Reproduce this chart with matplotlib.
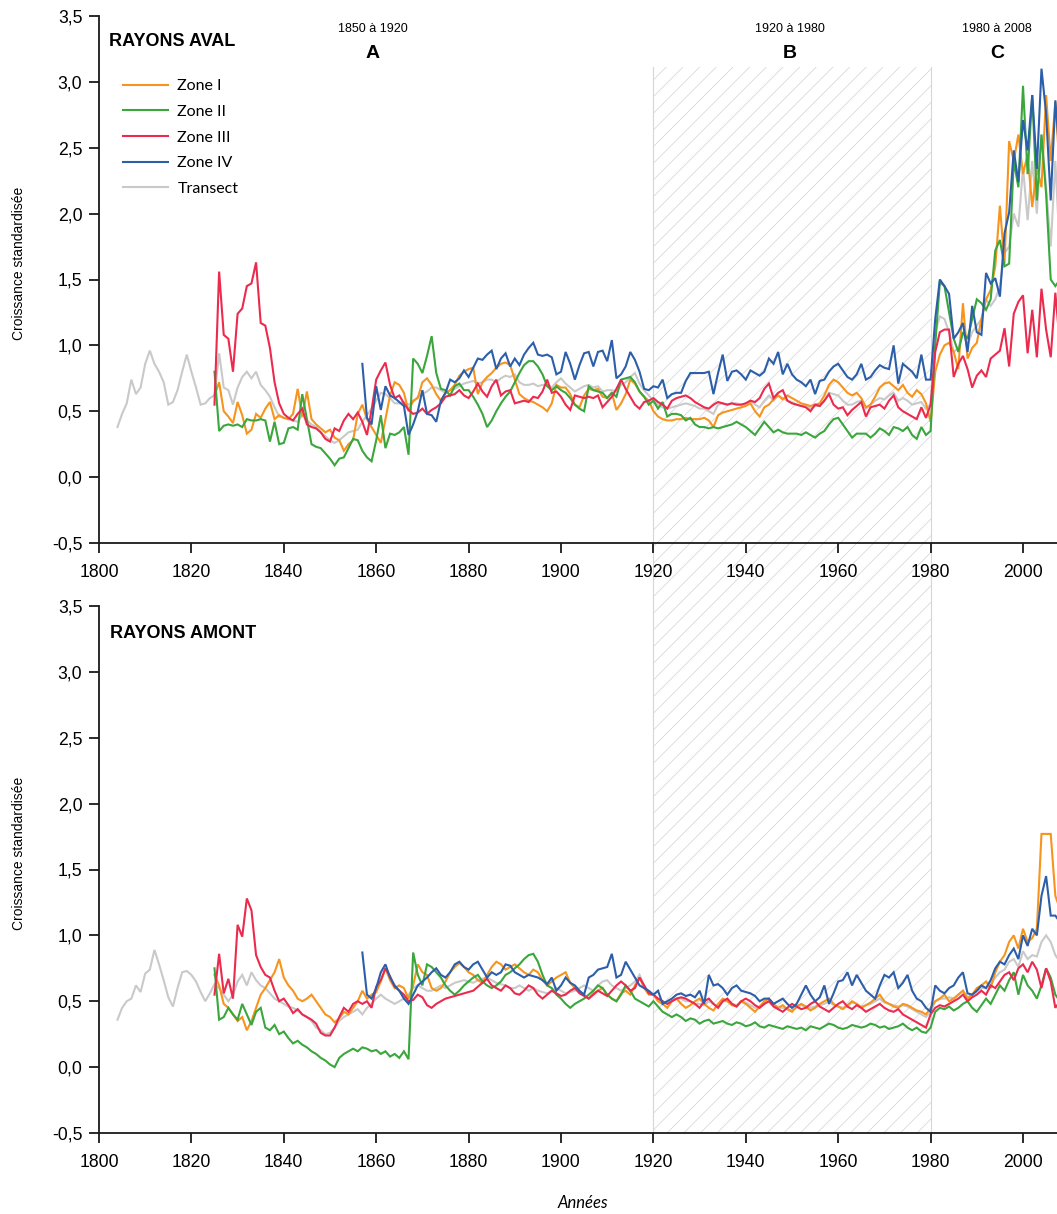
import numpy as np
import matplotlib
matplotlib.use("Agg")
import matplotlib.pyplot as plt
from matplotlib.patches import Rectangle
from matplotlib.lines import Line2D
from matplotlib.ticker import FuncFormatter
from matplotlib.transforms import blended_transform_factory

# ---------------------------------------------------------------- data
LAST_YEAR = 2008

# RAYONS AVAL
aval_transect_start = 1804
aval_transect = [
    0.38, 0.48, 0.56, 0.74, 0.63, 0.68, 0.86, 0.96, 0.86, 0.80, 0.72, 0.55, 0.57, 0.66, 0.80, 0.93, 0.80, 0.68, 0.55, 0.56, 0.60,
    0.62, 0.94, 0.68, 0.66, 0.55, 0.68, 0.76, 0.80, 0.75, 0.80, 0.70, 0.66, 0.61, 0.53, 0.46, 0.45, 0.44, 0.43, 0.42, 0.47,
    0.43, 0.40, 0.38, 0.34, 0.31, 0.28, 0.26, 0.28, 0.31, 0.34, 0.35, 0.36, 0.42, 0.47, 0.52, 0.58, 0.64, 0.63, 0.60, 0.56,
    0.56, 0.57, 0.55, 0.57, 0.61, 0.63, 0.65, 0.68, 0.68, 0.66,
    0.64, 0.66, 0.67, 0.69, 0.71, 0.72, 0.73, 0.71, 0.72, 0.74, 0.74, 0.72, 0.75, 0.77, 0.76, 0.78, 0.72, 0.70, 0.70, 0.71,
    0.69, 0.70, 0.70, 0.68, 0.72, 0.75, 0.71, 0.68, 0.65, 0.67, 0.69, 0.70, 0.68, 0.69, 0.65, 0.66, 0.66, 0.65, 0.70, 0.72,
    0.76, 0.79, 0.71, 0.66, 0.62, 0.58, 0.55, 0.53, 0.52, 0.53, 0.54,
    0.55, 0.56, 0.55, 0.54, 0.52, 0.52, 0.50, 0.48, 0.55, 0.56, 0.55, 0.56, 0.56, 0.55, 0.56, 0.58, 0.55, 0.53, 0.58, 0.62,
    0.58, 0.62, 0.60, 0.58, 0.57, 0.55, 0.54, 0.55, 0.52, 0.54, 0.54, 0.58, 0.64, 0.63, 0.62, 0.58, 0.55, 0.55, 0.57, 0.58,
    0.52, 0.55, 0.58, 0.60, 0.59, 0.62, 0.64, 0.58, 0.60, 0.58, 0.55, 0.56, 0.57, 0.52,
    0.55, 1.10, 1.22, 1.20, 1.10, 0.95, 0.98, 1.10, 1.00, 1.10, 1.15, 1.20, 1.35, 1.30, 1.35, 1.45, 1.70, 1.75, 2.00, 1.90,
    2.35, 1.95, 2.40, 2.00, 2.60, 2.20, 1.75, 2.40, 1.70,
]

aval_zone1_start = 1825
aval_zone1 = [
    0.62, 0.72, 0.50, 0.46, 0.41, 0.57, 0.47, 0.33, 0.36, 0.48, 0.45, 0.52, 0.57, 0.44, 0.47, 0.45, 0.44, 0.48, 0.67, 0.46,
    0.65, 0.44, 0.40, 0.37, 0.34, 0.36, 0.30, 0.28, 0.20, 0.25, 0.28, 0.48, 0.55, 0.44, 0.38, 0.32, 0.26,
    0.44, 0.62, 0.72, 0.70, 0.64, 0.50, 0.58, 0.60, 0.72, 0.75, 0.70, 0.63, 0.58, 0.64, 0.66, 0.70, 0.77, 0.80, 0.82, 0.83,
    0.63, 0.72, 0.76, 0.79, 0.83, 0.86, 0.87, 0.85, 0.74, 0.63, 0.60, 0.58, 0.57, 0.55, 0.53, 0.50, 0.56, 0.70, 0.68, 0.68,
    0.63, 0.55, 0.53, 0.62, 0.67, 0.66, 0.67, 0.61, 0.60, 0.64, 0.51, 0.56, 0.63, 0.74, 0.71, 0.65, 0.61, 0.58, 0.50, 0.46,
    0.44, 0.43, 0.43, 0.44,
    0.44, 0.45, 0.44, 0.44, 0.44, 0.45, 0.43, 0.38, 0.47, 0.49, 0.50, 0.51, 0.52, 0.53, 0.54, 0.56, 0.50, 0.46, 0.53, 0.55,
    0.59, 0.62, 0.59, 0.62, 0.60, 0.58, 0.56, 0.55, 0.54, 0.55, 0.56, 0.62, 0.70, 0.74, 0.72, 0.68, 0.64, 0.62, 0.64, 0.60,
    0.53, 0.55, 0.61, 0.68, 0.71, 0.72, 0.69, 0.66, 0.70, 0.64, 0.61, 0.66, 0.63, 0.56,
    0.42, 0.80, 0.93, 1.00, 1.02, 0.95, 0.82, 1.32, 0.90, 0.98, 1.02, 1.20, 1.35, 1.42, 1.60, 2.06, 1.62, 2.55, 2.40, 2.60,
    2.30, 2.45, 2.05, 2.35, 2.20, 2.90, 2.40, 2.85, 2.30,
]

aval_zone2_start = 1825
aval_zone2 = [
    0.80, 0.35, 0.39, 0.40, 0.39, 0.40, 0.38, 0.44, 0.43, 0.43, 0.44, 0.43, 0.27, 0.42, 0.25, 0.26, 0.37, 0.38, 0.36, 0.63,
    0.44, 0.25, 0.23, 0.22, 0.18, 0.14, 0.09, 0.14, 0.15, 0.22, 0.29, 0.28, 0.20, 0.15, 0.12, 0.28, 0.47, 0.22, 0.33, 0.32,
    0.34, 0.38, 0.17, 0.90, 0.86, 0.79, 0.92, 1.07, 0.79, 0.67, 0.66, 0.62, 0.69, 0.71, 0.66, 0.66, 0.61, 0.55, 0.48, 0.38,
    0.43, 0.50, 0.56, 0.61, 0.65, 0.72, 0.79, 0.85, 0.88, 0.88, 0.84, 0.78, 0.69, 0.66, 0.69, 0.66, 0.64, 0.60, 0.55, 0.52,
    0.50, 0.69, 0.66, 0.65, 0.64, 0.60, 0.64, 0.61, 0.74, 0.75, 0.76, 0.72, 0.65, 0.61, 0.55,
    0.58, 0.52, 0.57, 0.46, 0.48, 0.48, 0.47, 0.43, 0.45, 0.40, 0.38, 0.38, 0.37, 0.38, 0.37, 0.38, 0.39, 0.40, 0.42, 0.40,
    0.38, 0.35, 0.32, 0.37, 0.42, 0.38, 0.34, 0.36, 0.34, 0.33, 0.33, 0.33, 0.32, 0.34, 0.32, 0.30, 0.33, 0.35, 0.40, 0.44,
    0.45, 0.40, 0.35, 0.30, 0.33, 0.33, 0.33, 0.30, 0.33, 0.37, 0.35, 0.32, 0.38, 0.37, 0.35, 0.38, 0.32, 0.29, 0.38, 0.32,
    0.35, 1.00, 1.48, 1.45, 1.25, 1.05, 0.95, 1.10, 1.05, 1.20, 1.35, 1.32, 1.27, 1.35, 1.72, 1.80, 1.60, 1.62, 2.40, 2.20,
    2.97, 2.30, 2.90, 2.10, 2.60, 2.15, 1.50, 1.45, 1.50,
]

aval_zone3_start = 1825
aval_zone3 = [
    0.55, 1.56, 1.08, 1.05, 0.80, 1.24, 1.28, 1.45, 1.47, 1.63, 1.17, 1.15, 0.98, 0.72, 0.56, 0.48, 0.45, 0.43, 0.48, 0.52,
    0.40, 0.38, 0.37, 0.34, 0.29, 0.27, 0.37, 0.35, 0.43, 0.48, 0.44, 0.49, 0.42, 0.32, 0.51, 0.74,
    0.81, 0.87, 0.70, 0.60, 0.62, 0.56, 0.51, 0.48, 0.49, 0.52, 0.48, 0.51, 0.53, 0.56, 0.61, 0.62, 0.63, 0.66, 0.62, 0.60,
    0.65, 0.71, 0.65, 0.61, 0.69, 0.74, 0.62, 0.65, 0.66, 0.56, 0.57, 0.58, 0.57, 0.61, 0.60, 0.65, 0.74, 0.64, 0.65, 0.61,
    0.55, 0.51, 0.62, 0.61, 0.60, 0.61, 0.60, 0.62, 0.53, 0.57, 0.61, 0.67, 0.74, 0.67, 0.61, 0.55, 0.52, 0.57, 0.58,
    0.60, 0.57, 0.55, 0.52, 0.58, 0.60, 0.61, 0.62, 0.60, 0.57, 0.55, 0.53, 0.52, 0.55, 0.57, 0.56, 0.55, 0.56, 0.55, 0.55,
    0.56, 0.58, 0.57, 0.60, 0.67, 0.71, 0.60, 0.64, 0.66, 0.58, 0.56, 0.55, 0.54, 0.53, 0.50, 0.55, 0.54, 0.58, 0.63, 0.55,
    0.52, 0.53, 0.47, 0.51, 0.54, 0.57, 0.46, 0.53, 0.54, 0.55, 0.52, 0.58, 0.62, 0.53, 0.50, 0.48, 0.46, 0.44, 0.53, 0.45,
    0.55, 0.95, 1.10, 1.12, 1.12, 0.76, 0.86, 0.92, 0.82, 0.68, 0.77, 0.81, 0.76, 0.90, 0.93, 0.96, 1.13, 0.84, 1.24, 1.33,
    1.38, 0.94, 1.27, 0.91, 1.43, 1.12, 0.91, 1.40, 1.00,
]

aval_zone4_start = 1857
aval_zone4 = [
    0.86, 0.45, 0.40, 0.69, 0.51, 0.69, 0.62, 0.60, 0.57, 0.54, 0.32, 0.40, 0.50, 0.66, 0.48, 0.47, 0.42, 0.58, 0.64, 0.74,
    0.72, 0.75, 0.81, 0.76, 0.83, 0.90, 0.89, 0.93, 0.96, 0.82, 0.90, 0.94, 0.84, 0.90, 0.85, 0.93, 0.98, 1.02, 0.93, 0.92,
    0.93, 0.91, 0.78, 0.80, 0.95, 0.86, 0.74, 0.85, 0.94, 0.95, 0.84, 0.95, 0.96, 0.88, 1.04, 0.75, 0.78, 0.84, 0.95, 0.89,
    0.80, 0.67, 0.66,
    0.69, 0.68, 0.74, 0.60, 0.63, 0.64, 0.64, 0.73, 0.79, 0.79, 0.79, 0.79, 0.80, 0.63, 0.79, 0.93, 0.73, 0.80, 0.81, 0.78,
    0.74, 0.81, 0.79, 0.77, 0.80, 0.90, 0.86, 0.95, 0.78, 0.86, 0.78, 0.74, 0.72, 0.69, 0.74, 0.63, 0.73, 0.74, 0.80, 0.84,
    0.86, 0.81, 0.76, 0.74, 0.78, 0.86, 0.74, 0.76, 0.81, 0.85, 0.83, 0.82, 1.00, 0.71, 0.86, 0.83, 0.80, 0.75, 0.93, 0.74,
    0.74, 1.20, 1.50, 1.45, 1.39, 1.05, 1.10, 1.17, 0.95, 1.30, 1.10, 1.08, 1.55, 1.47, 1.51, 1.37, 1.85, 2.01, 2.48, 2.24,
    2.71, 2.48, 2.90, 2.34, 3.10, 2.76, 2.10, 2.86, 2.40,
]

# RAYONS AMONT
amont_transect_start = 1804
amont_transect = [
    0.36, 0.45, 0.50, 0.52, 0.62, 0.57, 0.71, 0.74, 0.89, 0.78, 0.66, 0.53, 0.46, 0.60, 0.72, 0.73, 0.70, 0.65, 0.57, 0.50, 0.56,
    0.63, 0.60, 0.55, 0.50, 0.55, 0.65, 0.70, 0.62, 0.72, 0.66, 0.62, 0.60, 0.56, 0.52, 0.50, 0.48, 0.46, 0.45, 0.43, 0.40,
    0.38, 0.35, 0.30, 0.28, 0.25, 0.26, 0.30, 0.35, 0.38, 0.40, 0.42, 0.44, 0.40, 0.45, 0.48, 0.52, 0.55, 0.52, 0.50, 0.48,
    0.50, 0.52, 0.55, 0.60, 0.62, 0.60, 0.58, 0.58, 0.60, 0.62, 0.60, 0.62, 0.64, 0.65, 0.66, 0.65, 0.64, 0.66, 0.67, 0.68,
    0.66, 0.64, 0.63, 0.62, 0.60, 0.60, 0.62, 0.60, 0.58, 0.60, 0.58, 0.57, 0.56, 0.58, 0.60, 0.58, 0.56, 0.57, 0.58, 0.60,
    0.62, 0.60, 0.58, 0.62, 0.65, 0.66, 0.62, 0.60, 0.58, 0.60, 0.62, 0.65, 0.70, 0.62, 0.56,
    0.55, 0.52, 0.50, 0.48, 0.50, 0.52, 0.52, 0.50, 0.50, 0.48, 0.48, 0.47, 0.50, 0.48, 0.46, 0.50, 0.50, 0.48, 0.47, 0.50,
    0.49, 0.47, 0.45, 0.46, 0.48, 0.50, 0.47, 0.45, 0.45, 0.44, 0.43, 0.45, 0.47, 0.46, 0.45, 0.46, 0.47, 0.48, 0.50, 0.47,
    0.46, 0.45, 0.46, 0.49, 0.48, 0.46, 0.47, 0.48, 0.50, 0.52, 0.49, 0.48, 0.47, 0.46, 0.47, 0.46, 0.44, 0.42, 0.40, 0.38,
    0.42, 0.50, 0.52, 0.52, 0.53, 0.52, 0.55, 0.58, 0.53, 0.55, 0.57, 0.60, 0.60, 0.63, 0.68, 0.72, 0.74, 0.80, 0.82, 0.76,
    0.88, 0.82, 0.85, 0.84, 0.95, 1.00, 0.95, 0.85, 0.80,
]

amont_zone1_start = 1825
amont_zone1 = [
    0.70, 0.62, 0.48, 0.45, 0.40, 0.35, 0.38, 0.28, 0.35, 0.45, 0.55, 0.60, 0.66, 0.72, 0.82, 0.68, 0.62, 0.58, 0.52, 0.50,
    0.52, 0.55, 0.50, 0.45, 0.40, 0.38, 0.34, 0.37, 0.42, 0.40, 0.45, 0.50, 0.58, 0.52, 0.55, 0.57,
    0.65, 0.75, 0.66, 0.60, 0.62, 0.60, 0.52, 0.62, 0.78, 0.72, 0.70, 0.60, 0.58, 0.60, 0.65, 0.72, 0.76, 0.79, 0.76, 0.72,
    0.70, 0.66, 0.64, 0.70, 0.76, 0.80, 0.78, 0.74, 0.76, 0.78, 0.75, 0.72, 0.70, 0.74, 0.72, 0.66, 0.62, 0.65, 0.68, 0.70,
    0.72, 0.64, 0.60, 0.57, 0.55, 0.52, 0.56, 0.58, 0.60, 0.55, 0.52, 0.50, 0.56, 0.58, 0.55, 0.62, 0.68, 0.60, 0.55,
    0.55, 0.50, 0.48, 0.45, 0.50, 0.52, 0.48, 0.45, 0.47, 0.50, 0.52, 0.48, 0.45, 0.43, 0.48, 0.52, 0.50, 0.47, 0.46, 0.50,
    0.48, 0.45, 0.42, 0.46, 0.50, 0.52, 0.48, 0.45, 0.47, 0.44, 0.42, 0.46, 0.48, 0.46, 0.43, 0.45, 0.48, 0.50, 0.52, 0.48,
    0.46, 0.44, 0.47, 0.50, 0.48, 0.45, 0.47, 0.49, 0.52, 0.55, 0.50, 0.48, 0.46, 0.45, 0.48, 0.47, 0.45, 0.43, 0.42, 0.40,
    0.45, 0.50, 0.52, 0.55, 0.50, 0.52, 0.55, 0.58, 0.52, 0.55, 0.60, 0.62, 0.65, 0.60, 0.72, 0.80, 0.85, 0.95, 1.00, 0.90,
    1.05, 0.95, 0.98, 1.05, 1.77, 1.77, 1.77, 1.30, 1.20,
]

amont_zone2_start = 1825
amont_zone2 = [
    0.75, 0.36, 0.38, 0.45, 0.40, 0.36, 0.48, 0.40, 0.32, 0.42, 0.45, 0.30, 0.28, 0.32, 0.25, 0.27, 0.22, 0.18, 0.20, 0.17,
    0.15, 0.12, 0.10, 0.07, 0.05, 0.02, 0.00, 0.07, 0.10, 0.12, 0.14, 0.12, 0.15, 0.14, 0.12, 0.13, 0.10, 0.12, 0.08, 0.10,
    0.07, 0.12, 0.06,
    0.87, 0.70, 0.62, 0.78, 0.76, 0.72, 0.68, 0.62, 0.58, 0.55, 0.58, 0.62, 0.65, 0.68, 0.70, 0.65, 0.62, 0.60, 0.62, 0.65,
    0.70, 0.72, 0.75, 0.78, 0.82, 0.85, 0.86, 0.80, 0.70, 0.62, 0.60, 0.55, 0.52, 0.48, 0.45, 0.48, 0.50, 0.52, 0.55, 0.58,
    0.62, 0.60, 0.55, 0.52, 0.50, 0.55, 0.62, 0.58, 0.52, 0.50, 0.48, 0.46,
    0.50, 0.46, 0.42, 0.40, 0.38, 0.40, 0.38, 0.35, 0.37, 0.36, 0.33, 0.35, 0.36, 0.33, 0.34, 0.35, 0.33, 0.32, 0.34, 0.33,
    0.31, 0.32, 0.34, 0.31, 0.30, 0.32, 0.31, 0.30, 0.29, 0.31, 0.30, 0.29, 0.30, 0.28, 0.31, 0.30, 0.29, 0.31, 0.33, 0.32,
    0.30, 0.29, 0.30, 0.32, 0.31, 0.30, 0.31, 0.33, 0.32, 0.30, 0.31, 0.29, 0.30, 0.31, 0.33, 0.30, 0.28, 0.30, 0.27, 0.26,
    0.30, 0.42, 0.45, 0.44, 0.46, 0.43, 0.45, 0.48, 0.50, 0.45, 0.42, 0.47, 0.52, 0.48, 0.55, 0.62, 0.58, 0.66, 0.72, 0.55,
    0.70, 0.62, 0.58, 0.52, 0.62, 0.75, 0.68, 0.55, 0.50,
]

amont_zone3_start = 1825
amont_zone3 = [
    0.55, 0.86, 0.56, 0.67, 0.52, 1.08, 0.99, 1.28, 1.19, 0.85, 0.76, 0.70, 0.68, 0.58, 0.50, 0.52, 0.47, 0.41, 0.44, 0.40,
    0.38, 0.36, 0.33, 0.26, 0.24, 0.24, 0.30, 0.38, 0.45, 0.42, 0.48, 0.50, 0.48, 0.50, 0.45, 0.61, 0.66, 0.75, 0.69, 0.61,
    0.58, 0.55, 0.50, 0.51, 0.55, 0.53, 0.47, 0.45, 0.48, 0.50, 0.52, 0.53, 0.54, 0.55, 0.56, 0.57, 0.58, 0.61, 0.64, 0.67,
    0.62,
    0.60, 0.58, 0.62, 0.60, 0.56, 0.55, 0.58, 0.62, 0.60, 0.55, 0.52, 0.55, 0.58, 0.56, 0.54, 0.55, 0.58, 0.60, 0.56, 0.54,
    0.52, 0.55, 0.58, 0.56, 0.54, 0.58, 0.62, 0.65, 0.62, 0.58, 0.60, 0.68, 0.62, 0.56,
    0.55, 0.52, 0.50, 0.48, 0.50, 0.52, 0.53, 0.52, 0.50, 0.48, 0.45, 0.50, 0.52, 0.48, 0.45, 0.50, 0.52, 0.48, 0.46, 0.50,
    0.52, 0.50, 0.47, 0.45, 0.48, 0.50, 0.46, 0.44, 0.42, 0.45, 0.48, 0.46, 0.44, 0.45, 0.48, 0.50, 0.46, 0.44, 0.42, 0.45,
    0.48, 0.50, 0.46, 0.44, 0.47, 0.45, 0.42, 0.44, 0.46, 0.48, 0.45, 0.43, 0.42, 0.44, 0.40, 0.38, 0.36, 0.34, 0.32, 0.30,
    0.40, 0.45, 0.47, 0.46, 0.48, 0.50, 0.52, 0.55, 0.50, 0.53, 0.55, 0.58, 0.55, 0.62, 0.60, 0.65, 0.70, 0.72, 0.66, 0.75,
    0.78, 0.72, 0.80, 0.74, 0.60, 0.75, 0.65, 0.45, 0.50,
]

amont_zone4_start = 1857
amont_zone4 = [
    0.87, 0.55, 0.52, 0.60, 0.72, 0.78, 0.68, 0.62, 0.58, 0.52, 0.48, 0.55, 0.62, 0.65, 0.68, 0.72, 0.75, 0.70, 0.68, 0.72,
    0.78, 0.80, 0.76, 0.74, 0.78, 0.80,
    0.74, 0.68, 0.72, 0.70, 0.72, 0.78, 0.77, 0.72, 0.70, 0.68, 0.70, 0.69, 0.68, 0.66, 0.63, 0.68, 0.58, 0.62, 0.68, 0.64,
    0.62, 0.58, 0.55, 0.68, 0.70, 0.74, 0.75, 0.76, 0.86, 0.68, 0.70, 0.80, 0.74, 0.68, 0.62, 0.60, 0.58,
    0.55, 0.58, 0.48, 0.50, 0.52, 0.55, 0.56, 0.54, 0.55, 0.53, 0.58, 0.48, 0.70, 0.62, 0.63, 0.60, 0.55, 0.60, 0.62, 0.58,
    0.57, 0.56, 0.54, 0.50, 0.52, 0.52, 0.48, 0.50, 0.52, 0.48, 0.45, 0.48, 0.55, 0.62, 0.55, 0.50, 0.53, 0.62, 0.48, 0.56,
    0.65, 0.66, 0.72, 0.62, 0.70, 0.64, 0.58, 0.55, 0.52, 0.62, 0.70, 0.68, 0.72, 0.60, 0.64, 0.70, 0.58, 0.52, 0.50, 0.45,
    0.42, 0.62, 0.58, 0.56, 0.60, 0.62, 0.68, 0.72, 0.56, 0.55, 0.58, 0.62, 0.60, 0.66, 0.75, 0.80, 0.78, 0.85, 0.90, 0.82,
    1.00, 0.92, 1.05, 1.00, 1.30, 1.45, 1.15, 1.15, 1.10,
]

series_names = ["Zone I", "Zone II", "Zone III", "Zone IV", "Transect"]
series_colors = ["#F7941D", "#3AA63C", "#EC2A4E", "#2C5EA9", "#C9C9C9"]
series_z = [3, 4, 5, 6, 2]

period_labels = ["1850 à 1920", "1920 à 1980", "1980 à 2008"]
period_letters = ["A", "B", "C"]
period_centers = [1859.3, 1949.6, 1994.4]
hatch_span = (1920, 1980)

panels = [
    ("RAYONS AVAL",
     [(aval_zone1_start, aval_zone1), (aval_zone2_start, aval_zone2), (aval_zone3_start, aval_zone3),
      (aval_zone4_start, aval_zone4), (aval_transect_start, aval_transect)]),
    ("RAYONS AMONT",
     [(amont_zone1_start, amont_zone1), (amont_zone2_start, amont_zone2), (amont_zone3_start, amont_zone3),
      (amont_zone4_start, amont_zone4), (amont_transect_start, amont_transect)]),
]

for _, sers in panels:
    for start, vals in sers:
        assert len(vals) == LAST_YEAR - start + 1, (start, len(vals))

# ---------------------------------------------------------------- figure
W, H = 1057, 1214
fig = plt.figure(figsize=(W / 100, H / 100), dpi=100)
fig.patch.set_facecolor("white")
plt.rcParams["hatch.linewidth"] = 0.5

SANS = ["Liberation Sans", "DejaVu Sans"]
SOFT = ["Lato", "DejaVu Sans"]


def px_rect(left, top, right, bottom):
    return [left / W, 1 - bottom / H, (right - left) / W, (bottom - top) / H]


ax_top = fig.add_axes(px_rect(99, 16, 1057, 543))
ax_bot = fig.add_axes(px_rect(99, 606, 1057, 1133))
x_max = 1800 + (1057 - 99) / 4.62

comma = FuncFormatter(lambda v, p: f"{v:.1f}".replace(".", ","))

for ax, (title, sers) in zip([ax_top, ax_bot], panels):
    ax.patch.set_alpha(0)
    for (start, vals), name, col, z in zip(sers, series_names, series_colors, series_z):
        yrs = np.arange(start, LAST_YEAR + 1)
        ax.plot(yrs, vals, color=col, lw=1.5, zorder=z, solid_joinstyle="miter")
    ax.set_xlim(1800, x_max)
    ax.set_ylim(-0.5, 3.5)
    ax.set_xticks(np.arange(1800, 2001, 20))
    ax.set_yticks(np.arange(-0.5, 3.51, 0.5))
    ax.yaxis.set_major_formatter(comma)
    for s in ["top", "right"]:
        ax.spines[s].set_visible(False)
    for s in ["left", "bottom"]:
        ax.spines[s].set_linewidth(1.3)
        ax.spines[s].set_color("#1a1a1a")
    ax.tick_params(direction="out", length=7, width=1.3, color="#1a1a1a", labelsize=12.7, pad=5)
    ax.tick_params(axis="x", pad=8)
    for lab in ax.get_xticklabels() + ax.get_yticklabels():
        lab.set_family(SANS)
    ax.set_ylabel("Croissance standardisée", family=SANS, fontsize=10)
    ax.yaxis.set_label_coords(-73 / 958, 0.53)

# panel titles
fig.text(109 / W, 1 - 42 / H, "RAYONS AVAL", family=SANS, fontsize=13, fontweight="bold", va="center", ha="left")
fig.text(110 / W, 1 - 634 / H, "RAYONS AMONT", family=SANS, fontsize=13, fontweight="bold", va="center", ha="left")

# period labels above the top panel
tr = blended_transform_factory(ax_top.transData, fig.transFigure)
for lab, let, xc in zip(period_labels, period_letters, period_centers):
    fig.text(xc, 1 - 29 / H, lab, transform=tr, family=SANS, fontsize=9, ha="center", va="center")
    fig.text(xc, 1 - 54 / H, let, transform=tr, family=SANS, fontsize=14, fontweight="bold", ha="center", va="center")

# hatched band 1920-1980 running through both panels
y0 = 1 - 1133 / H
y1 = 1 - 67 / H
band = Rectangle((hatch_span[0], y0), hatch_span[1] - hatch_span[0], y1 - y0, transform=tr,
                 facecolor="none", edgecolor="#d2d2d2", hatch="//", linewidth=0, zorder=-1)
fig.add_artist(band)
for xv in hatch_span:
    fig.add_artist(Line2D([xv, xv], [y0, y1], transform=tr, color="#d6d6d6", lw=0.8, zorder=-1))

# legend
handles = [Line2D([], [], color=c, lw=1.5) for c in series_colors]
leg = ax_top.legend(handles, series_names, loc="upper left", frameon=False,
                    bbox_to_anchor=(123 / W, 1 - 79 / H), bbox_transform=fig.transFigure,
                    prop={"family": SOFT, "size": 11.5}, handlelength=2.8, handletextpad=0.6,
                    labelspacing=0.72, borderpad=0, borderaxespad=0)

fig.text(583 / W, 1 - 1203 / H, "Années", family=SOFT, fontsize=12, style="italic", ha="center", va="center")

fig.savefig("out.png", dpi=100, facecolor="white")
